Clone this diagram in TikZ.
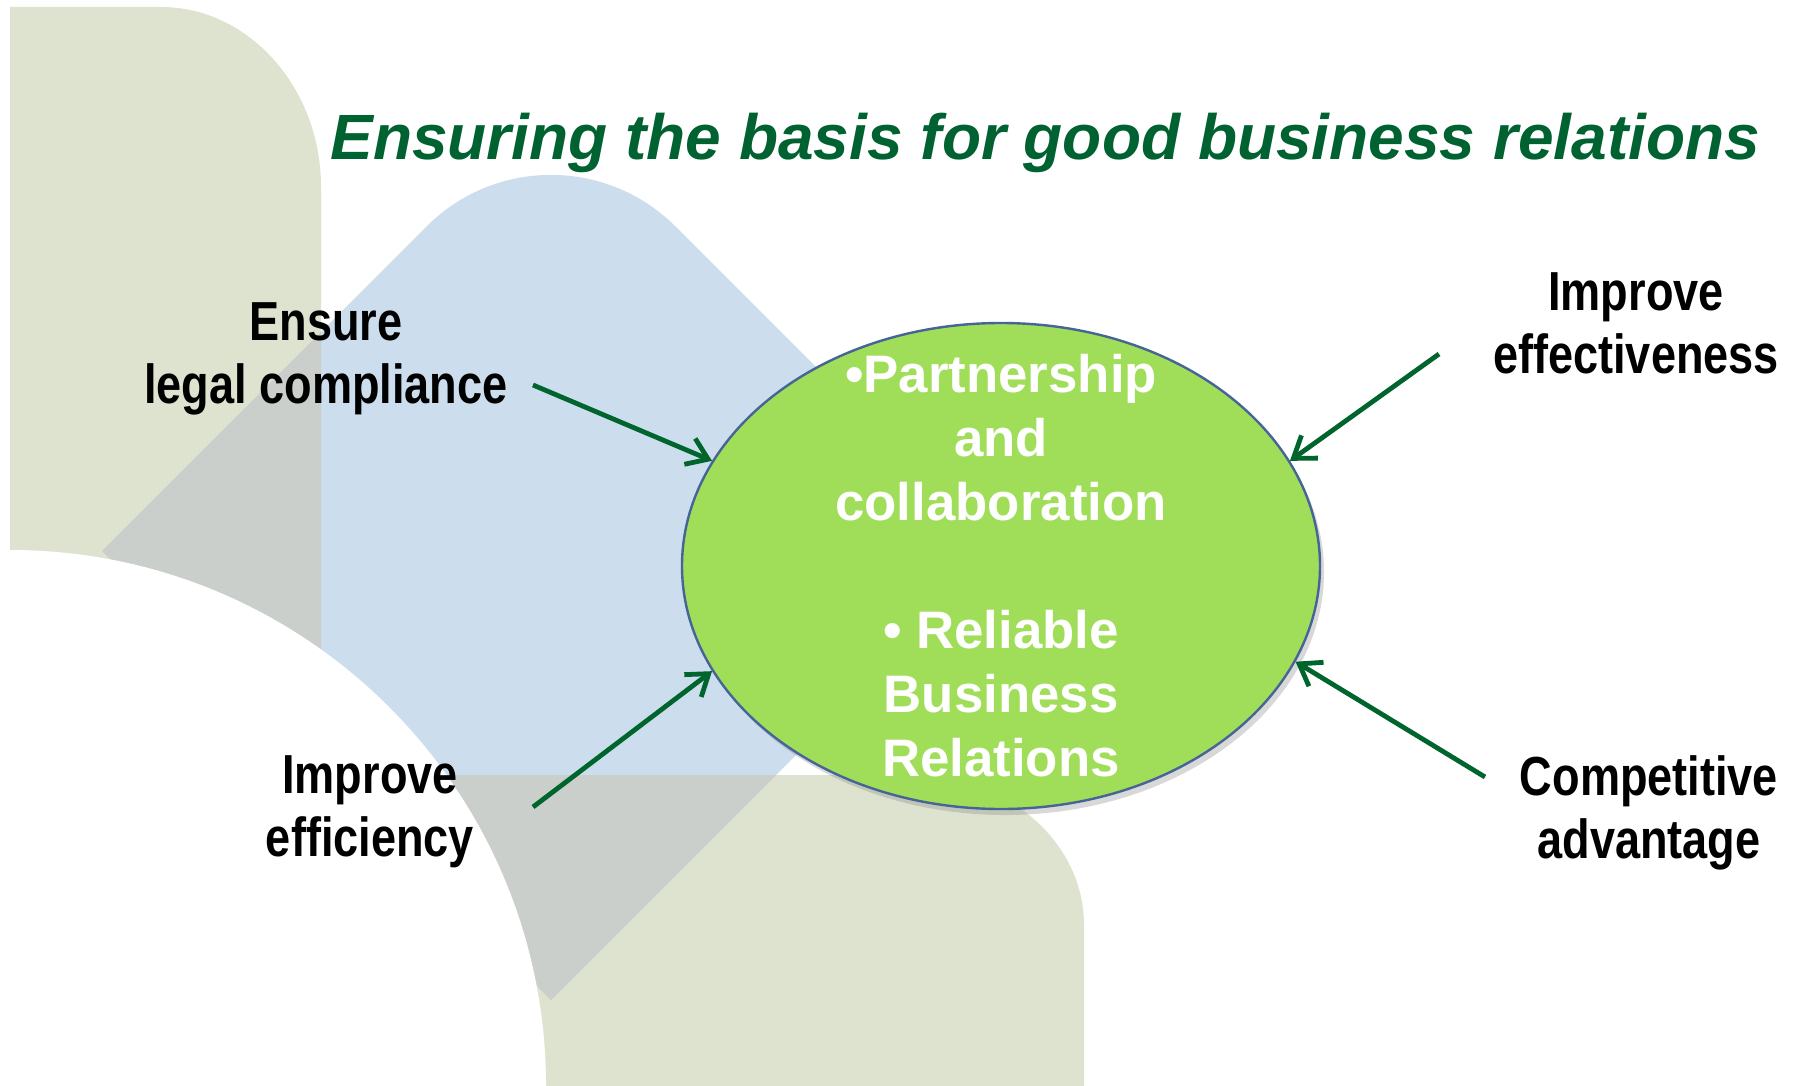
\documentclass[tikz,border=0pt]{standalone}
\usepackage{fontspec}
\setmainfont{Liberation Sans}
\newfontfamily\narrowfont[FakeStretch=0.82]{Liberation Sans Bold}
\usetikzlibrary{arrows.meta}
\usetikzlibrary{shapes}
\usetikzlibrary{shadows}

\definecolor{sage}{RGB}{222,227,207}
\definecolor{sky}{RGB}{204,222,237}
\definecolor{stone}{RGB}{203,207,204}
\definecolor{leaf}{RGB}{160,222,90}
\definecolor{rim}{RGB}{70,100,150}
\definecolor{pine}{RGB}{0,100,45}
\definecolor{heading}{RGB}{0,98,48}

% background panels
\newcommand{\sagetop}{(10,7) -- (161,7) .. controls (249,7) and (321,88) .. (321,187) -- (321,1086) -- (10,1086) -- cycle}
\newcommand{\sagelow}{(300,775) -- (912,775) .. controls (1007,775) and (1084,842) .. (1084,925) -- (1084,1086) -- (300,1086) -- cycle}
\newcommand{\skypanel}{(102,551) [rounded corners=88pt] -- (551,102) -- (1000,551) [sharp corners] -- (551,1000) -- cycle}

\begin{document}
\begin{tikzpicture}
      [x=0.5pt,y=-0.5pt,
        goal/.style={font=\narrowfont\fontsize{27.5}{31.5}\selectfont,align=center,inner sep=0pt},
        feed/.style={pine,line width=2.4pt,-{Straight Barb[length=10pt,width=14pt]}},
        hub/.style={ellipse,fill=leaf,draw=rim,line width=1.2pt,inner sep=0pt,
          minimum width=319pt,minimum height=243pt,
          drop shadow={opacity=0.3,shadow xshift=2pt,shadow yshift=-3pt}}]
  \useasboundingbox (0,0) rectangle (1793,1086);
  \fill[white] (0,0) rectangle (1793,1086);
  \fill[sage] \sagetop;
  \fill[sage] \sagelow;
  \fill[sky] \skypanel;
  \begin{scope}
    \clip \skypanel;
    \fill[stone] \sagetop;
    \fill[stone] \sagelow;
  \end{scope}
  \fill[white] (0,550) -- (10,550) .. controls (306,550) and (546,790) .. (546,1086) -- (0,1086) -- cycle;

  \node[anchor=base west,inner sep=0pt,text=heading,
        font=\bfseries\itshape\fontsize{32}{38}\selectfont] (title) at (330,160)
    {Ensuring the basis for good business relations};

  \node[hub] (hub) at (1001,566) {};
  \node[text=white,align=center,font=\bfseries\fontsize{26.4}{32}\selectfont] (hubtext) at (hub.center)
    {•Partnership\\and\\collaboration\\[32pt]• Reliable\\Business\\Relations};

  \node[goal] (legal) at (326,359) {Ensure\\legal compliance};
  \node[goal] (effect) at (1636,323) {Improve\\effectiveness};
  \node[goal] (effic) at (370,812) {Improve\\efficiency};
  \node[goal] (compet) at (1649,813) {Competitive\\advantage};

  \coordinate (legalend) at (533,385);
  \coordinate (effectend) at (1439,354);
  \coordinate (efficend) at (533,807);
  \coordinate (competend) at (1485,777);
  \draw[feed] (legalend) -- (hub.160);
  \draw[feed] (effectend) -- (hub.20);
  \draw[feed] (efficend) -- (hub.200);
  \draw[feed] (competend) -- (hub.342);
\end{tikzpicture}
\end{document}
